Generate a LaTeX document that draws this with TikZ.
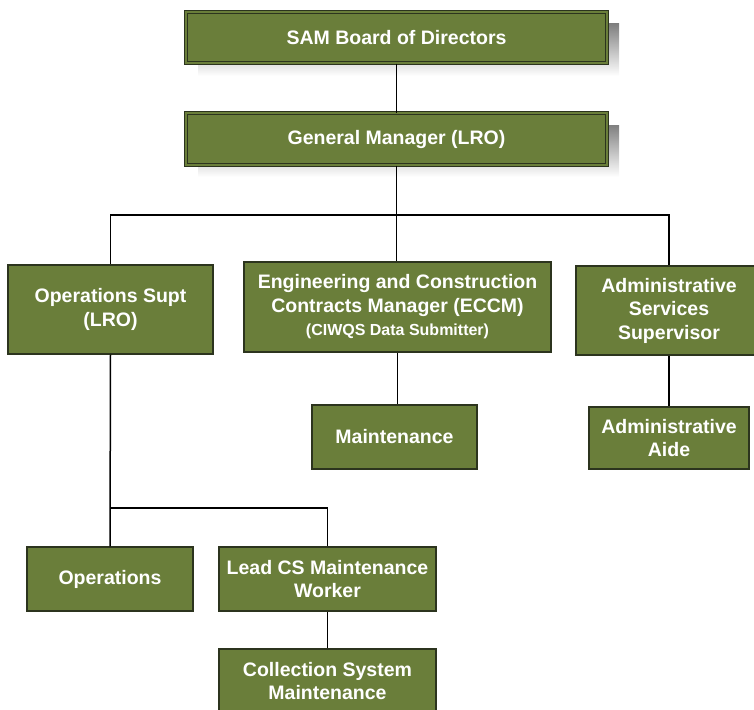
\documentclass[tikz,border=0pt]{standalone}
\usepackage{fontspec}
\setmainfont{Liberation Sans}
\definecolor{olive}{RGB}{106,126,58}
\definecolor{edge}{RGB}{44,52,30}
\definecolor{shade}{RGB}{204,204,204}
\tikzset{
  box/.style={rectangle, fill=olive, draw=edge, line width=1.2pt, text=white,
    font=\bfseries\fontsize{19.5}{23.5}\selectfont, align=center, inner sep=0pt},
  topbox/.style={box, draw=edge, double=olive, double distance=2.2pt, line width=1pt},
  link/.style={draw=black, line width=1.5pt},
  shadowbox/.style={fill=shade, draw=none}
}
\begin{document}
\begin{tikzpicture}[x=1pt,y=-1pt]
\useasboundingbox (0,0) rectangle (754,709);
\begin{scope}
\clip (0,0) rectangle (754,709);
% shadows
\fill[shade] (198,24) rectangle (619,76);
\fill[shade] (198,125) rectangle (619,177);
% nodes
\node[topbox, minimum width=421pt, minimum height=51pt] (board) at (396.5,37.5) {SAM Board of Directors};
\node[topbox, minimum width=421pt, minimum height=52pt] (gm) at (396.5,139) {General Manager (LRO)};
\node[box, minimum width=205pt, minimum height=89pt] (ops) at (110.5,309.5) {Operations Supt\\(LRO)};
\node[box, minimum width=307pt, minimum height=90pt] (eccm) at (397.5,307) {Engineering and Construction\\Contracts Manager (ECCM)\\{\fontsize{16}{20}\selectfont(CIWQS Data Submitter)}};
\node[box, minimum width=186pt, minimum height=89pt] (adm) at (669,310.5) {Administrative\\Services\\Supervisor};
\node[box, minimum width=165pt, minimum height=64pt] (maint) at (394.5,437) {Maintenance};
\node[box, minimum width=160pt, minimum height=62pt] (aide) at (669,438) {Administrative\\Aide};
\node[box, minimum width=166pt, minimum height=64pt] (oper) at (110,579) {Operations};
\node[box, minimum width=217pt, minimum height=64pt] (lead) at (327.5,579) {Lead CS Maintenance\\Worker};
\node[box, minimum width=217pt, minimum height=64pt] (coll) at (327.5,681) {Collection System\\Maintenance};
\end{scope}
% connectors
\coordinate (bus) at (397,215);
\coordinate (sub) at (110,508);
\draw[link] (board.south) -- (gm.south |- board.south) -- (gm.north);
\draw[link] (gm.south) -- (gm.south |- eccm.north);
\draw[link] (ops.north) |- (bus) -| (adm.north);
\draw[link] (eccm.south) -- (eccm.south |- maint.north);
\draw[link] (adm.south) -- (aide.north);
\draw[link] (ops.south) -- (oper.north);
\draw[link] (sub) -| (lead.north);
\draw[link] (lead.south) -- (coll.north);
\end{tikzpicture}
\end{document}
